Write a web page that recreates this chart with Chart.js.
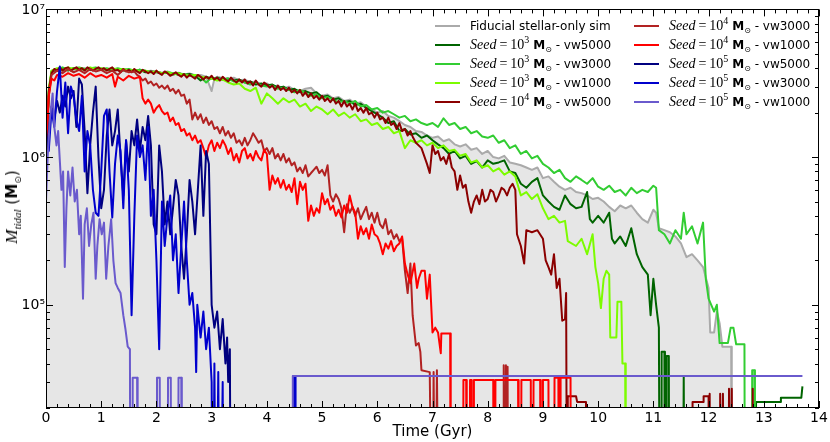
<!DOCTYPE html>
<html><head><meta charset="utf-8">
<script src="https://cdn.jsdelivr.net/npm/chart.js@4"></script>
<style>
html,body{margin:0;padding:0;background:#fff;}
#wrap{position:relative;width:830px;height:442px;overflow:hidden;}
#c{position:absolute;left:0;top:0;}
.leg{position:absolute;height:18px;line-height:18px;white-space:nowrap;font-family:'DejaVu Sans';font-size:12px;color:#000;}
.leg .ln{position:absolute;left:0;top:8px;width:25px;height:2px;}
.leg .tx{position:absolute;left:35px;top:0;}
.mth{font-family:'Liberation Serif';font-size:14px;}
.mth i{font-style:italic;}
.eq{padding:0 3px;}
.sp{font-size:10px;position:relative;top:-6px;}
.sb{font-size:8px;position:relative;top:3px;}
#ytitle{position:absolute;left:12px;top:207px;transform:translate(-50%,-50%) rotate(-90deg);white-space:nowrap;font-family:'DejaVu Sans';font-size:15px;color:#000;}
#ytitle .mth{font-size:17px;}
#ytitle .sbi{font-size:11px;position:relative;top:4px;font-family:'Liberation Serif';font-style:italic;}
#ytitle .sb{font-size:9px;top:4px;}
</style></head>
<body>
<div id="wrap"><canvas id="c" width="830" height="442"></canvas><div id="ytitle"><span class="mth"><i>M</i></span><span class="sbi">tidal</span> (<b>M</b><span class="sb">⊙</span>)</div></div>
<script>
// Values: time in Gyr, tidal mass in units of 10^6 Msun ; 0.001 = below plotted range
const fiducial = [[0,1.0],[0.05,2.6],[0.1,3.75],[0.2,3.9],[0.3,3.85],[0.4,4.0],[0.5,3.9],[0.6,3.95],[0.7,4.0],[0.8,3.88],[0.9,3.95],[1.0,4.0],[1.1,3.9],[1.2,3.95],[1.3,3.85],[1.4,3.95],[1.5,3.88],[1.6,3.85],[1.7,3.9],[1.8,3.8],[1.9,3.85],[2.0,3.78],[2.1,3.72],[2.2,3.8],[2.3,3.68],[2.4,3.72],[2.5,3.62],[2.6,3.68],[2.7,3.58],[2.8,3.6],[2.9,3.5],[3.0,2.8],[3.05,3.4],[3.1,3.5],[3.2,3.42],[3.3,3.38],[3.4,3.45],[3.5,3.3],[3.6,3.35],[3.7,3.2],[3.8,3.25],[3.9,3.1],[4.0,3.15],[4.1,3.0],[4.2,3.05],[4.3,2.9],[4.4,3.0],[4.5,2.85],[4.6,2.8],[4.7,2.9],[4.8,2.95],[4.9,2.7],[5.0,2.6],[5.1,2.65],[5.2,2.5],[5.3,2.55],[5.4,2.4],[5.5,2.45],[5.6,2.3],[5.7,2.35],[5.8,2.2],[5.9,2.1],[6.0,2.0],[6.1,2.05],[6.2,1.9],[6.3,1.85],[6.4,1.75],[6.5,1.65],[6.6,1.6],[6.7,1.5],[6.8,1.48],[6.9,1.4],[7.0,1.35],[7.1,1.38],[7.2,1.28],[7.3,1.32],[7.4,1.22],[7.5,1.18],[7.6,1.22],[7.7,1.12],[7.8,1.15],[7.9,1.05],[8.0,1.1],[8.1,1.0],[8.2,0.98],[8.3,1.02],[8.4,0.92],[8.5,0.9],[8.6,0.88],[8.7,0.85],[8.8,0.82],[8.9,0.85],[9.0,0.72],[9.1,0.74],[9.2,0.68],[9.3,0.63],[9.4,0.6],[9.5,0.62],[9.6,0.58],[9.7,0.57],[9.8,0.55],[9.9,0.52],[10.0,0.53],[10.1,0.5],[10.2,0.46],[10.3,0.43],[10.4,0.47],[10.5,0.45],[10.6,0.47],[10.7,0.42],[10.8,0.38],[10.9,0.36],[11.0,0.44],[11.05,0.42],[11.1,0.33],[11.2,0.32],[11.3,0.31],[11.4,0.29],[11.5,0.26],[11.6,0.21],[11.7,0.22],[11.8,0.2],[11.9,0.18],[12.0,0.13],[12.03,0.065],[12.1,0.065],[12.15,0.09],[12.2,0.075],[12.25,0.052],[12.41,0.052],[12.42,0.001]];

const seed3vw5000 = [[0,1.0],[0.05,2.7],[0.1,3.8],[0.2,3.9],[0.3,3.95],[0.4,3.85],[0.5,4.0],[0.6,3.9],[0.7,3.95],[0.8,3.9],[0.9,4.0],[1.0,3.9],[1.1,3.95],[1.2,3.85],[1.3,3.95],[1.4,3.85],[1.5,3.9],[1.6,3.8],[1.7,3.9],[1.8,3.75],[1.9,3.8],[2.0,3.75],[2.1,3.7],[2.2,3.72],[2.3,3.62],[2.4,3.7],[2.5,3.6],[2.6,3.65],[2.7,3.55],[2.8,3.3],[2.9,3.5],[3.0,3.4],[3.1,3.45],[3.2,3.35],[3.3,3.4],[3.4,3.3],[3.5,3.35],[3.6,3.2],[3.7,3.25],[3.8,3.1],[3.9,3.15],[4.0,3.05],[4.1,3.1],[4.2,2.95],[4.3,3.0],[4.4,2.85],[4.5,2.9],[4.6,2.75],[4.7,2.8],[4.8,2.7],[4.9,2.75],[5.0,2.55],[5.1,2.6],[5.2,2.45],[5.3,2.5],[5.4,2.35],[5.5,2.4],[5.6,2.25],[5.7,2.3],[5.8,2.15],[5.9,2.05],[6.0,1.95],[6.1,1.85],[6.2,1.7],[6.3,1.75],[6.4,1.5],[6.5,1.55],[6.6,1.42],[6.7,1.45],[6.8,1.35],[6.9,1.4],[7.0,1.3],[7.1,1.22],[7.2,1.15],[7.3,1.05],[7.4,1.1],[7.5,0.98],[7.6,1.02],[7.7,0.9],[7.8,0.94],[7.9,0.85],[8.0,0.95],[8.1,0.9],[8.2,0.92],[8.3,0.95],[8.4,0.8],[8.5,0.78],[8.6,0.66],[8.7,0.62],[8.8,0.68],[8.9,0.72],[9.0,0.55],[9.1,0.5],[9.2,0.46],[9.3,0.44],[9.4,0.55],[9.5,0.48],[9.6,0.45],[9.7,0.46],[9.8,0.58],[9.85,0.38],[9.9,0.36],[10.0,0.4],[10.1,0.36],[10.2,0.42],[10.25,0.28],[10.3,0.26],[10.4,0.29],[10.5,0.25],[10.6,0.33],[10.7,0.22],[10.8,0.18],[10.9,0.16],[10.95,0.085],[11.0,0.15],[11.05,0.1],[11.1,0.07],[11.12,0.001],[11.14,0.001],[11.15,0.048],[11.2,0.048],[11.21,0.001],[11.23,0.001],[11.24,0.045],[11.28,0.045],[11.29,0.001],[11.53,0.001],[11.55,0.033],[11.57,0.001],[12.85,0.001],[12.86,0.022],[13.3,0.022],[13.31,0.0235],[13.68,0.0235],[13.7,0.028]];

const seed3vw3000 = [[0,1.0],[0.05,2.8],[0.1,3.8],[0.2,3.95],[0.3,4.05],[0.4,3.9],[0.5,4.0],[0.6,4.05],[0.7,3.95],[0.8,4.0],[0.9,4.05],[1.0,3.95],[1.1,4.0],[1.2,3.9],[1.3,4.0],[1.4,3.9],[1.5,3.95],[1.6,3.85],[1.7,3.9],[1.8,3.85],[1.9,3.75],[2.0,3.8],[2.1,3.7],[2.2,3.75],[2.3,3.7],[2.4,3.6],[2.5,3.65],[2.6,3.55],[2.7,3.6],[2.8,3.5],[2.9,3.2],[3.0,3.45],[3.1,3.4],[3.2,3.35],[3.3,3.4],[3.4,3.25],[3.5,3.3],[3.6,3.2],[3.7,3.1],[3.8,3.2],[3.9,3.05],[4.0,3.0],[4.1,3.05],[4.2,2.9],[4.3,2.95],[4.4,2.85],[4.5,2.75],[4.6,2.85],[4.7,2.7],[4.8,2.6],[4.9,2.65],[5.0,2.5],[5.1,2.55],[5.2,2.45],[5.3,2.35],[5.4,2.4],[5.5,2.3],[5.6,2.4],[5.7,2.2],[5.8,2.25],[5.9,2.1],[6.0,2.15],[6.1,2.0],[6.2,2.05],[6.3,1.95],[6.4,1.85],[6.5,1.9],[6.6,1.75],[6.7,1.8],[6.8,1.7],[6.9,1.65],[7.0,1.7],[7.1,1.6],[7.2,1.83],[7.3,1.65],[7.4,1.7],[7.5,1.55],[7.6,1.6],[7.7,1.45],[7.8,1.5],[7.9,1.38],[8.0,1.35],[8.1,1.4],[8.2,1.25],[8.3,1.3],[8.4,1.15],[8.5,1.2],[8.6,1.05],[8.7,1.1],[8.8,0.98],[8.9,1.02],[9.0,0.9],[9.1,0.85],[9.2,0.78],[9.3,0.82],[9.4,0.72],[9.5,0.68],[9.6,0.74],[9.7,0.7],[9.8,0.66],[9.9,0.72],[10.0,0.63],[10.1,0.6],[10.2,0.64],[10.3,0.58],[10.4,0.6],[10.5,0.55],[10.6,0.62],[10.7,0.57],[10.8,0.6],[10.9,0.58],[11.0,0.64],[11.05,0.62],[11.1,0.32],[11.2,0.3],[11.3,0.26],[11.4,0.32],[11.5,0.28],[11.55,0.42],[11.6,0.3],[11.7,0.34],[11.8,0.26],[11.9,0.36],[11.95,0.15],[12.0,0.11],[12.1,0.09],[12.15,0.1],[12.2,0.055],[12.35,0.055],[12.4,0.07],[12.45,0.07],[12.5,0.054],[12.65,0.054],[12.66,0.001],[12.78,0.001],[12.79,0.036],[12.83,0.036],[12.84,0.001]];

const seed3vw1000 = [[0,1.0],[0.05,2.9],[0.1,3.85],[0.2,4.0],[0.3,3.9],[0.4,4.05],[0.5,3.95],[0.6,4.0],[0.7,3.9],[0.8,4.05],[0.9,3.95],[1.0,4.0],[1.1,3.9],[1.2,4.0],[1.3,3.9],[1.4,3.95],[1.5,3.85],[1.6,3.9],[1.7,3.8],[1.8,3.85],[1.9,3.75],[2.0,3.8],[2.1,3.7],[2.2,3.75],[2.3,3.65],[2.4,3.7],[2.5,3.6],[2.6,3.55],[2.7,3.6],[2.8,3.5],[2.9,3.45],[3.0,3.4],[3.1,3.3],[3.2,3.35],[3.3,3.2],[3.4,3.1],[3.5,3.15],[3.6,2.9],[3.7,2.8],[3.8,2.95],[3.9,2.3],[4.0,2.7],[4.1,2.5],[4.2,2.3],[4.3,2.5],[4.4,2.35],[4.5,2.45],[4.6,2.2],[4.7,2.3],[4.8,2.05],[4.9,2.2],[5.0,2.1],[5.1,1.95],[5.2,2.1],[5.3,1.9],[5.4,2.0],[5.5,1.85],[5.6,1.95],[5.7,1.75],[5.8,1.8],[5.9,1.65],[6.0,1.7],[6.1,1.55],[6.2,1.6],[6.3,1.45],[6.4,1.5],[6.5,1.15],[6.6,1.3],[6.7,1.25],[6.8,1.3],[6.9,1.2],[7.0,1.25],[7.1,1.15],[7.2,1.2],[7.3,1.1],[7.4,1.12],[7.5,1.02],[7.6,1.05],[7.7,0.92],[7.8,0.95],[7.9,0.85],[8.0,0.88],[8.1,0.8],[8.2,0.84],[8.3,0.76],[8.4,0.8],[8.5,0.74],[8.6,0.55],[8.7,0.58],[8.8,0.52],[8.9,0.56],[9.0,0.45],[9.1,0.38],[9.2,0.4],[9.3,0.36],[9.4,0.37],[9.45,0.27],[9.6,0.25],[9.7,0.28],[9.8,0.22],[9.9,0.3],[9.95,0.18],[10.0,0.14],[10.05,0.095],[10.1,0.15],[10.15,0.17],[10.2,0.16],[10.22,0.06],[10.33,0.06],[10.35,0.105],[10.42,0.105],[10.44,0.04],[10.49,0.04],[10.5,0.001]];

const seed4vw5000 = [[0,1.0],[0.05,2.8],[0.1,3.7],[0.15,3.95],[0.2,3.85],[0.25,4.05],[0.3,3.85],[0.35,4.0],[0.4,4.05],[0.45,3.85],[0.5,3.95],[0.55,4.05],[0.6,3.9],[0.65,4.0],[0.7,3.85],[0.75,4.05],[0.8,3.95],[0.85,3.85],[0.9,3.95],[0.95,4.05],[1.0,3.9],[1.05,4.0],[1.1,3.85],[1.15,3.95],[1.2,4.05],[1.25,3.85],[1.3,3.9],[1.35,3.75],[1.4,3.95],[1.45,3.8],[1.5,3.9],[1.55,3.75],[1.6,3.95],[1.65,3.8],[1.7,3.7],[1.75,3.9],[1.8,3.8],[1.85,3.7],[1.9,3.8],[1.95,3.65],[2.0,3.85],[2.05,3.7],[2.1,3.6],[2.15,3.8],[2.2,3.7],[2.25,3.55],[2.3,3.65],[2.35,3.75],[2.4,3.6],[2.45,3.5],[2.5,3.65],[2.55,3.45],[2.6,3.6],[2.65,3.5],[2.7,3.4],[2.75,3.6],[2.8,3.5],[2.85,3.35],[2.9,3.5],[2.95,3.4],[3.0,3.55],[3.05,3.35],[3.1,3.45],[3.15,3.3],[3.2,3.5],[3.25,3.35],[3.3,3.25],[3.35,3.45],[3.4,3.3],[3.45,3.2],[3.5,3.35],[3.55,3.2],[3.6,3.35],[3.65,3.15],[3.7,3.25],[3.75,3.05],[3.8,3.3],[3.85,3.1],[3.9,3.0],[3.95,3.2],[4.0,3.1],[4.05,2.95],[4.1,3.05],[4.15,2.85],[4.2,3.05],[4.25,2.85],[4.3,2.95],[4.35,2.8],[4.4,2.95],[4.45,2.75],[4.5,2.85],[4.55,2.7],[4.6,2.85],[4.65,2.6],[4.7,2.75],[4.75,2.55],[4.8,2.7],[4.85,2.5],[4.9,2.6],[4.95,2.45],[5.0,2.6],[5.05,2.4],[5.1,2.5],[5.15,2.35],[5.2,2.5],[5.25,2.3],[5.3,2.4],[5.35,2.2],[5.4,2.4],[5.45,2.2],[5.5,2.3],[5.55,2.1],[5.6,2.3],[5.65,2.05],[5.7,2.15],[5.75,2.0],[5.8,2.15],[5.85,1.95],[5.9,2.0],[5.95,1.85],[6.0,2.0],[6.05,1.8],[6.1,1.85],[6.15,1.7],[6.2,1.85],[6.25,1.65],[6.3,1.7],[6.35,1.55],[6.4,1.7],[6.45,1.5],[6.5,1.55],[6.55,1.4],[6.6,1.5],[6.65,1.35],[6.7,1.25],[6.8,1.15],[6.9,0.9],[6.95,0.78],[7.0,1.2],[7.05,1.05],[7.1,1.1],[7.15,0.95],[7.2,1.0],[7.25,0.9],[7.3,1.05],[7.35,0.85],[7.4,0.8],[7.45,0.6],[7.5,0.75],[7.55,0.62],[7.6,0.65],[7.65,0.5],[7.7,0.42],[7.75,0.5],[7.8,0.55],[7.85,0.48],[7.9,0.6],[7.95,0.5],[8.0,0.52],[8.05,0.6],[8.1,0.58],[8.15,0.5],[8.2,0.55],[8.25,0.62],[8.3,0.6],[8.35,0.55],[8.4,0.62],[8.45,0.66],[8.5,0.6],[8.53,0.3],[8.6,0.25],[8.66,0.19],[8.7,0.32],[8.8,0.31],[8.9,0.32],[9.0,0.28],[9.05,0.2],[9.1,0.18],[9.15,0.16],[9.2,0.22],[9.25,0.13],[9.3,0.15],[9.35,0.078],[9.4,0.08],[9.42,0.12],[9.44,0.001],[9.45,0.024],[9.6,0.024],[9.62,0.022],[9.78,0.022],[9.79,0.001],[11.7,0.001],[11.71,0.022],[11.9,0.022],[11.91,0.024],[12.0,0.024],[12.01,0.001],[12.02,0.025],[12.04,0.001],[12.2,0.001],[12.21,0.025],[12.24,0.001],[12.26,0.025],[12.29,0.001],[12.36,0.001],[12.37,0.027],[12.4,0.001],[12.42,0.027],[12.44,0.001],[12.79,0.001],[12.8,0.027],[12.81,0.001]];

const seed4vw3000 = [[0,1.0],[0.05,2.6],[0.1,3.6],[0.2,3.85],[0.3,3.7],[0.4,3.95],[0.5,3.75],[0.6,3.9],[0.7,3.7],[0.8,3.95],[0.9,3.8],[1.0,3.9],[1.1,3.7],[1.2,3.85],[1.3,3.6],[1.4,3.9],[1.5,3.75],[1.6,3.8],[1.65,3.6],[1.7,3.5],[1.75,3.3],[1.8,3.4],[1.85,3.15],[1.9,3.25],[1.95,3.05],[2.0,3.15],[2.05,2.95],[2.1,3.05],[2.15,2.9],[2.2,3.05],[2.25,2.8],[2.3,2.9],[2.35,2.7],[2.4,2.85],[2.45,2.6],[2.5,2.65],[2.55,2.3],[2.6,2.45],[2.65,1.8],[2.7,2.0],[2.75,1.8],[2.8,1.95],[2.85,1.7],[2.9,1.85],[2.95,1.65],[3.0,1.75],[3.05,1.55],[3.1,1.6],[3.15,1.45],[3.2,1.6],[3.25,1.4],[3.3,1.5],[3.35,1.35],[3.4,1.45],[3.45,1.25],[3.5,1.3],[3.55,1.2],[3.6,1.35],[3.65,1.2],[3.7,1.3],[3.75,1.45],[3.8,1.35],[3.85,1.25],[3.9,1.3],[3.95,1.1],[4.0,1.15],[4.05,1.05],[4.1,1.15],[4.15,0.98],[4.2,1.05],[4.25,0.95],[4.3,1.05],[4.35,0.92],[4.4,0.98],[4.45,0.88],[4.5,0.92],[4.55,0.8],[4.6,0.85],[4.65,0.78],[4.7,0.88],[4.75,0.74],[4.8,0.78],[4.85,0.82],[4.9,0.86],[4.95,0.78],[5.0,0.82],[5.05,0.75],[5.1,0.88],[5.15,0.55],[5.2,0.5],[5.25,0.56],[5.3,0.52],[5.35,0.45],[5.4,0.31],[5.45,0.48],[5.5,0.42],[5.55,0.46],[5.6,0.4],[5.65,0.45],[5.7,0.38],[5.75,0.42],[5.8,0.46],[5.85,0.38],[5.9,0.42],[5.95,0.36],[6.0,0.42],[6.05,0.35],[6.1,0.33],[6.15,0.38],[6.2,0.3],[6.25,0.32],[6.3,0.28],[6.35,0.3],[6.4,0.27],[6.45,0.28],[6.5,0.17],[6.55,0.12],[6.6,0.19],[6.64,0.085],[6.7,0.053],[6.75,0.055],[6.78,0.048],[6.8,0.036],[6.95,0.035],[7.0,0.001],[7.02,0.035],[7.05,0.001],[7.08,0.036],[7.12,0.001],[8.28,0.001],[8.29,0.039],[8.31,0.001],[8.33,0.039],[8.35,0.001],[8.36,0.038],[8.37,0.001]];

const seed4vw1000 = [[0,1.0],[0.03,1.8],[0.05,2.6],[0.1,3.4],[0.15,3.3],[0.2,3.6],[0.3,3.5],[0.4,3.7],[0.5,3.55],[0.6,3.65],[0.7,3.45],[0.8,3.7],[0.9,3.5],[1.0,3.6],[1.1,3.45],[1.2,3.65],[1.25,3.0],[1.3,3.5],[1.4,3.3],[1.5,3.55],[1.6,3.4],[1.7,3.5],[1.75,2.5],[1.8,2.3],[1.85,2.45],[1.9,2.3],[1.95,2.0],[2.0,2.15],[2.05,2.25],[2.1,2.05],[2.15,1.95],[2.2,2.0],[2.25,1.75],[2.3,1.85],[2.35,1.65],[2.4,1.7],[2.45,1.5],[2.5,1.55],[2.55,1.4],[2.6,1.45],[2.65,1.3],[2.7,1.4],[2.75,1.25],[2.8,1.3],[2.85,1.15],[2.9,1.0],[2.95,1.2],[3.0,1.3],[3.05,1.1],[3.1,1.25],[3.15,1.15],[3.2,1.3],[3.25,1.2],[3.3,1.05],[3.35,1.15],[3.4,0.95],[3.45,1.05],[3.5,0.92],[3.55,1.1],[3.6,1.15],[3.65,0.98],[3.7,1.05],[3.75,0.95],[3.8,1.1],[3.85,1.0],[3.9,0.95],[3.95,1.12],[4.0,1.05],[4.05,0.6],[4.1,0.75],[4.15,0.66],[4.2,0.72],[4.25,0.62],[4.3,0.7],[4.35,0.6],[4.4,0.65],[4.45,0.58],[4.5,0.72],[4.55,0.48],[4.6,0.68],[4.65,0.6],[4.7,0.66],[4.75,0.37],[4.8,0.47],[4.85,0.4],[4.9,0.45],[4.95,0.42],[5.0,0.57],[5.05,0.48],[5.1,0.52],[5.15,0.44],[5.2,0.47],[5.25,0.4],[5.3,0.44],[5.35,0.39],[5.4,0.47],[5.45,0.42],[5.5,0.55],[5.55,0.46],[5.6,0.42],[5.65,0.28],[5.7,0.34],[5.75,0.3],[5.8,0.33],[5.85,0.28],[5.9,0.35],[5.95,0.3],[6.0,0.29],[6.05,0.26],[6.1,0.22],[6.15,0.26],[6.2,0.24],[6.25,0.27],[6.3,0.23],[6.35,0.25],[6.4,0.26],[6.45,0.29],[6.5,0.19],[6.55,0.16],[6.6,0.14],[6.67,0.19],[6.72,0.13],[6.75,0.15],[6.8,0.17],[6.86,0.17],[6.9,0.11],[6.95,0.16],[7.0,0.065],[7.05,0.07],[7.1,0.065],[7.15,0.047],[7.16,0.064],[7.32,0.064],[7.33,0.001],[7.55,0.001],[7.56,0.031],[7.61,0.031],[7.62,0.001],[7.67,0.001],[7.68,0.031],[7.71,0.031],[7.72,0.001],[7.74,0.001],[7.75,0.031],[8.1,0.031],[8.11,0.001],[8.13,0.001],[8.14,0.031],[8.55,0.031],[8.56,0.001],[8.6,0.001],[8.61,0.031],[8.78,0.031],[8.79,0.001],[8.82,0.001],[8.83,0.031],[8.95,0.031],[8.96,0.001],[8.99,0.001],[9.0,0.031],[9.1,0.031],[9.11,0.001],[9.2,0.001],[9.21,0.032],[9.28,0.032],[9.29,0.001],[9.31,0.001],[9.32,0.032],[9.5,0.032],[9.51,0.001]];

const seed5vw5000 = [[0,1.0],[0.05,1.5],[0.1,2.2],[0.15,1.8],[0.2,2.4],[0.25,2.0],[0.3,2.6],[0.35,2.2],[0.4,3.0],[0.45,2.5],[0.5,2.8],[0.55,1.6],[0.6,3.4],[0.65,3.1],[0.7,1.5],[0.75,0.57],[0.8,1.2],[0.85,2.0],[0.9,3.0],[0.95,1.0],[1.0,0.45],[1.05,0.6],[1.1,1.4],[1.15,2.1],[1.2,1.2],[1.25,1.5],[1.3,2.1],[1.35,1.0],[1.4,0.55],[1.45,1.3],[1.5,0.8],[1.55,1.5],[1.6,1.2],[1.65,1.8],[1.7,1.1],[1.75,1.6],[1.8,1.3],[1.85,1.9],[1.9,1.2],[1.95,0.35],[2.0,0.3],[2.05,1.2],[2.1,0.8],[2.15,0.35],[2.2,0.5],[2.25,0.3],[2.3,0.45],[2.35,0.7],[2.4,0.55],[2.45,0.25],[2.5,0.15],[2.55,0.3],[2.6,0.7],[2.65,0.5],[2.7,0.3],[2.75,0.6],[2.8,1.2],[2.85,0.4],[2.9,1.1],[2.95,0.9],[3.0,0.1],[3.05,0.07],[3.1,0.09],[3.15,0.05],[3.2,0.08],[3.25,0.04],[3.28,0.06],[3.3,0.03],[3.33,0.05],[3.35,0.001]];

const seed5vw3000 = [[0,1.1],[0.05,1.1],[0.1,2.1],[0.15,1.6],[0.2,2.8],[0.25,4.1],[0.3,1.85],[0.35,3.2],[0.4,1.45],[0.45,3.0],[0.5,2.6],[0.55,1.8],[0.6,1.5],[0.65,2.6],[0.7,0.8],[0.75,1.5],[0.8,1.2],[0.85,0.6],[0.9,0.42],[0.95,0.4],[1.0,0.8],[1.05,1.9],[1.1,2.1],[1.15,0.8],[1.2,0.39],[1.25,0.9],[1.3,1.4],[1.35,1.1],[1.4,0.45],[1.45,1.3],[1.5,0.6],[1.55,0.085],[1.6,0.4],[1.65,1.4],[1.7,1.0],[1.75,1.2],[1.8,0.7],[1.85,1.6],[1.9,0.4],[1.95,0.6],[2.0,0.2],[2.05,0.05],[2.1,0.5],[2.15,0.25],[2.2,0.4],[2.25,0.55],[2.3,0.2],[2.35,0.3],[2.4,0.12],[2.45,0.25],[2.5,0.5],[2.55,0.2],[2.6,0.1],[2.65,0.12],[2.7,0.07],[2.72,0.035],[2.74,0.1],[2.8,0.06],[2.85,0.09],[2.9,0.05],[2.95,0.07],[3.0,0.03],[3.02,0.001],[3.05,0.04],[3.08,0.001],[3.12,0.035],[3.15,0.001],[3.2,0.03],[3.22,0.001],[4.47,0.001],[4.48,0.033],[4.51,0.033],[4.52,0.001]];

const seed5vw1000 = [[0,0.5],[0.03,1.0],[0.07,1.8],[0.12,2.7],[0.15,1.6],[0.19,1.2],[0.22,1.5],[0.25,0.95],[0.28,0.6],[0.31,0.8],[0.34,0.18],[0.37,0.45],[0.4,0.8],[0.44,0.55],[0.48,0.85],[0.52,0.5],[0.56,0.6],[0.6,0.3],[0.63,0.4],[0.67,0.11],[0.7,0.35],[0.74,0.45],[0.78,0.25],[0.82,0.35],[0.86,0.42],[0.9,0.15],[0.93,0.25],[0.97,0.38],[1.01,0.3],[1.05,0.36],[1.09,0.15],[1.13,0.25],[1.18,0.38],[1.22,0.2],[1.26,0.14],[1.3,0.13],[1.35,0.12],[1.4,0.085],[1.44,0.068],[1.48,0.052],[1.52,0.05],[1.53,0.001],[1.56,0.001],[1.57,0.032],[1.65,0.032],[1.66,0.001],[2.0,0.001],[2.01,0.032],[2.06,0.032],[2.07,0.001],[2.2,0.001],[2.21,0.032],[2.26,0.032],[2.27,0.001],[2.39,0.001],[2.4,0.032],[2.45,0.032],[2.46,0.001],[4.46,0.001],[4.47,0.033],[13.7,0.033]];

const seriesPoints = [fiducial, seed3vw5000, seed3vw3000, seed3vw1000, seed4vw5000, seed4vw3000, seed4vw1000, seed5vw5000, seed5vw3000, seed5vw1000];
const seriesSeedExp = [null, 3, 3, 3, 4, 4, 4, 5, 5, 5];
const seriesWind = [null, 5000, 3000, 1000, 5000, 3000, 1000, 5000, 3000, 1000];
const seriesColor = ['#aaaaaa', '#006400', '#32cd32', '#7cfc00', '#8b0000', '#b22222', '#ff0000', '#000080', '#0000cd', '#6a5acd'];
const fiducialLabel = 'Fiducial stellar-only sim';
const xTicks = {min: 0, max: 14, step: 1, minor: 0.2};
const yRange = {min: 0.02, max: 10};
const yTickText = {'-1': '10⁵', '0': '10⁶', '1': '10⁷'};

const sup = {3: '³', 4: '⁴', 5: '⁵'};
const datasets = seriesPoints.map((pts, i) => ({
  label: i === 0 ? fiducialLabel : 'Seed = 10' + sup[seriesSeedExp[i]] + ' M☉ - vw' + seriesWind[i],
  data: pts.map(p => ({x: p[0], y: p[1]})),
  borderColor: seriesColor[i],
  backgroundColor: i === 0 ? '#e6e6e6' : seriesColor[i],
  fill: i === 0 ? 'start' : false,
  borderWidth: 2,
  pointRadius: 0,
  tension: 0,
  borderJoinStyle: 'round',
  order: -i
}));

const frameTicks = {
  id: 'frameTicks',
  afterDatasetsDraw(chart) {
    const {ctx, chartArea: a, scales: {x, y}} = chart;
    ctx.save();
    ctx.strokeStyle = '#000';
    ctx.lineWidth = 1;
    ctx.beginPath();
    const nx = Math.round((xTicks.max - xTicks.min) / xTicks.minor);
    for (let i = 0; i <= nx; i++) {
      const v = xTicks.min + i * xTicks.minor;
      const px = Math.round(x.getPixelForValue(v)) + 0.5;
      const L = (i % 5 === 0) ? 7 : 4;
      ctx.moveTo(px, a.bottom); ctx.lineTo(px, a.bottom - L);
      ctx.moveTo(px, a.top); ctx.lineTo(px, a.top + L);
    }
    for (let e = -2; e <= 1; e++) {
      for (let k = 1; k <= 9; k++) {
        const v = k * Math.pow(10, e);
        if (v < yRange.min * 0.999 || v > yRange.max * 1.001) continue;
        const py = Math.round(y.getPixelForValue(v)) + 0.5;
        const L = k === 1 ? 7 : 4;
        ctx.moveTo(a.left, py); ctx.lineTo(a.left + L, py);
        ctx.moveTo(a.right, py); ctx.lineTo(a.right - L, py);
      }
    }
    ctx.stroke();
    ctx.strokeRect(Math.round(a.left) + 0.5, Math.round(a.top) + 0.5, Math.round(a.right - a.left) - 1, Math.round(a.bottom - a.top) - 1);
    ctx.restore();
  }
};

Chart.defaults.font.family = "'DejaVu Sans'";
Chart.defaults.color = '#000';

const chart = new Chart(document.getElementById('c'), {
  type: 'line',
  data: {datasets},
  options: {
    responsive: false,
    animation: false,
    devicePixelRatio: 1,
    layout: {padding: {top: 9, right: 11, left: 0, bottom: 0}},
    plugins: {legend: {display: false}, tooltip: {enabled: false}},
    scales: {
      x: {
        type: 'linear', min: xTicks.min, max: xTicks.max,
        grid: {display: false, drawTicks: false}, border: {display: false},
        ticks: {stepSize: xTicks.step, autoSkip: false, maxRotation: 0, padding: 2, font: {size: 14}},
        title: {display: true, text: 'Time (Gyr)', font: {size: 15}, padding: {top: 0, bottom: 1}},
        afterFit(s) { s.height = 34; }
      },
      y: {
        type: 'logarithmic', min: yRange.min, max: yRange.max,
        grid: {display: false, drawTicks: false}, border: {display: false},
        ticks: {
          autoSkip: false, padding: 1, labelOffset: 1, font: {size: 14},
          callback(v) { const l = Math.log10(v); const r = Math.round(l); return Math.abs(l - r) < 1e-6 && yTickText[r] ? yTickText[r] : ''; }
        },
        afterFit(s) { s.width = 46; }
      }
    }
  },
  plugins: [frameTicks]
});

// legend (HTML, two columns)
const wrap = document.getElementById('wrap');
const legCols = [{line: 435, rows: [0, 1, 2, 3, 4]}, {line: 634, rows: [5, 6, 7, 8, 9]}];
const legRowY = [26, 45, 64, 83, 102];
legCols.forEach(col => col.rows.forEach((idx, r) => {
  const d = document.createElement('div');
  d.className = 'leg';
  d.style.left = col.line + 'px';
  d.style.top = (legRowY[r] - 9) + 'px';
  const text = idx === 0 ? fiducialLabel :
    '<span class="mth"><i>Seed</i><span class="eq">=</span>10<span class="sp">' + seriesSeedExp[idx] + '</span></span> <b>M</b><span class="sb">⊙</span> - vw' + seriesWind[idx];
  d.innerHTML = '<span class="ln" style="background:' + seriesColor[idx] + '"></span><span class="tx">' + text + '</span>';
  wrap.appendChild(d);
}));
</script>
</body></html>
